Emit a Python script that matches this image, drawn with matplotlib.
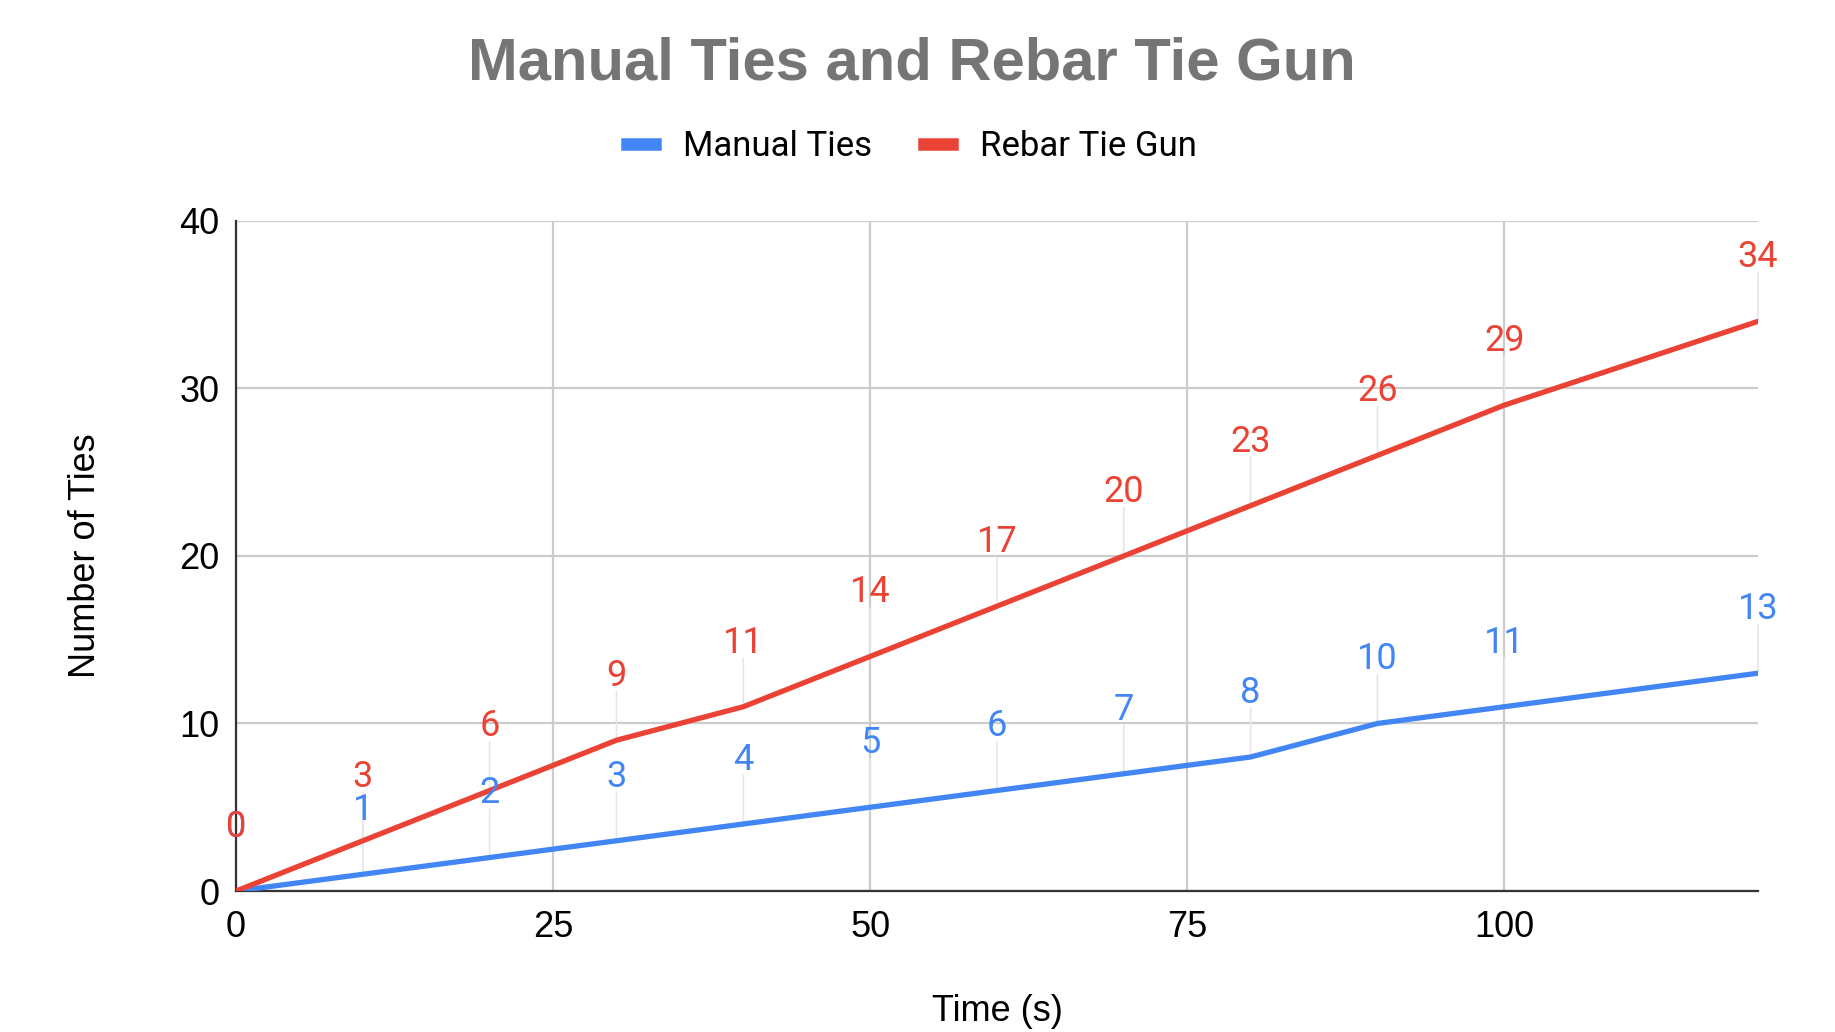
import matplotlib.pyplot as plt
from matplotlib.lines import Line2D

# Dados
tempo = [0, 10, 20, 30, 40, 50, 60, 70, 80, 90, 100, 120]
manual = [0, 1, 2, 3, 4, 5, 6, 7, 8, 10, 11, 13]
pistola = [0, 3, 6, 9, 11, 14, 17, 20, 23, 26, 29, 34]
xticks = [0, 25, 50, 75, 100]
yticks = [0, 10, 20, 30, 40]

azul = '#4285F4'
vermelho = '#EA4335'

fig = plt.figure(figsize=(18.35, 10.32), dpi=100)
ax = fig.add_axes([0.1286, 0.1366, 0.8294, 0.6494])

ax.plot(tempo, manual, color=azul, lw=3.8, solid_capstyle='round', zorder=4)
ax.plot(tempo, pistola, color=vermelho, lw=3.8, solid_capstyle='round', zorder=5)

# rótulos dos pontos com linhas-guia
for serie, cor in [(manual, azul), (pistola, vermelho)]:
    for x, y in zip(tempo, serie):
        ax.annotate(str(y), (x, y), xytext=(0, 39), textcoords='offset points',
                    ha='center', va='baseline', color=cor, fontsize=26,
                    family='Roboto', zorder=6)
        ax.annotate('', (x, y), xytext=(0, 35), textcoords='offset points',
                    arrowprops=dict(arrowstyle='-', color='#e6e6e6', lw=1.2,
                                    shrinkA=0, shrinkB=0), zorder=2)

ax.set_xlim(0, 120)
ax.set_ylim(0, 40)
ax.set_xticks(xticks)
ax.set_yticks(yticks)
ax.grid(True, color='#cccccc', lw=1.6, zorder=1)
ax.set_axisbelow(True)
for s in ['top', 'right']:
    ax.spines[s].set_visible(False)
ax.spines['left'].set_color('#333333')
ax.spines['bottom'].set_color('#333333')
ax.spines['left'].set_linewidth(1.6)
ax.spines['bottom'].set_linewidth(1.6)
ax.tick_params(length=0, labelsize=26)
ax.tick_params(axis='y', pad=12)
ax.tick_params(axis='x', pad=14)
for lab in ax.get_xticklabels() + ax.get_yticklabels():
    lab.set_family('Liberation Sans')

ax.set_xlabel('Time (s)', fontsize=26, family='Liberation Sans', labelpad=35)
ax.set_ylabel('Number of Ties', fontsize=26, family='Liberation Sans', labelpad=55)

fig.text(0.497, 0.938, 'Manual Ties and Rebar Tie Gun', ha='center', va='center',
         fontsize=43, fontweight='bold', color='#757575', family='Liberation Sans')

handles = [Line2D([], [], color=azul, lw=9), Line2D([], [], color=vermelho, lw=9)]
fig.legend(handles, ['Manual Ties', 'Rebar Tie Gun'], loc='center',
           bbox_to_anchor=(0.497, 0.858), ncol=2, frameon=False,
           prop={'family': 'Roboto', 'size': 25}, handlelength=0.8,
           columnspacing=1.5, handletextpad=0.8)

fig.savefig('out.png', dpi=100)
